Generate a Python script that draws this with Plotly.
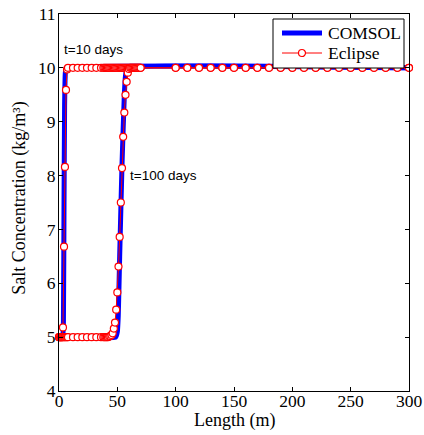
import plotly.graph_objects as go

# COMSOL profiles (length in m, salt concentration kg/m3)
comsol_t10_x = [0, 3.2, 3.8, 4.3, 4.8, 5.4, 6.2, 300]
comsol_t10_y = [5.0, 5.02, 5.3, 7.5, 9.3, 9.9, 10.0, 10.0]
comsol_t100_x = [0, 48.5, 50.0, 50.8, 52.0, 54.0, 56.0, 57.0, 58.5, 300]
comsol_t100_y = [5.0, 5.0, 5.1, 5.4, 6.5, 8.2, 9.5, 9.85, 10.0, 10.0]

# Eclipse grid cell centres
ecl_x = [0, 0.9, 1.7, 2.6, 3.4, 4.3, 5.1, 6.0, 6.9, 7.7,
         12, 16, 20, 24, 28, 32, 36,
         38, 39, 40, 41, 42, 43, 44, 45, 46, 47, 48, 49, 50, 51, 52, 53, 54, 55,
         56, 57, 58, 59, 60, 61, 62, 63, 64, 65, 66, 67, 68, 69, 70,
         100, 110, 120, 130, 140, 150, 160, 170, 180, 190, 200,
         210, 220, 230, 240, 250, 260, 270, 280, 290, 300]
ecl_t10_y = [5.0, 5.0, 5.0, 5.0, 5.18, 6.68, 8.16, 9.59, 9.97, 10.0,
             10.0, 10.0, 10.0, 10.0, 10.0, 10.0, 10.0,
             10.0, 10.0, 10.0, 10.0, 10.0, 10.0, 10.0, 10.0, 10.0, 10.0, 10.0, 10.0, 10.0, 10.0, 10.0, 10.0, 10.0, 10.0,
             10.0, 10.0, 10.0, 10.0, 10.0, 10.0, 10.0, 10.0, 10.0, 10.0, 10.0, 10.0, 10.0, 10.0, 10.0,
             10.0, 10.0, 10.0, 10.0, 10.0, 10.0, 10.0, 10.0, 10.0, 10.0, 10.0,
             10.0, 10.0, 10.0, 10.0, 10.0, 10.0, 10.0, 10.0, 10.0, 10.0]
ecl_t100_y = [5.0, 5.0, 5.0, 5.0, 5.0, 5.0, 5.0, 5.0, 5.0, 5.0,
              5.0, 5.0, 5.0, 5.0, 5.0, 5.0, 5.0,
              5.0, 5.0, 5.0, 5.0, 5.0, 5.01, 5.02, 5.04, 5.07, 5.16, 5.27, 5.51, 5.83, 6.31, 6.86, 7.5, 8.14, 8.72,
              9.17, 9.5, 9.74, 9.91, 9.98, 10.0, 10.0, 10.0, 10.0, 10.0, 10.0, 10.0, 10.0, 10.0, 10.0,
              10.0, 10.0, 10.0, 10.0, 10.0, 10.0, 10.0, 10.0, 10.0, 10.0, 10.0,
              10.0, 10.0, 10.0, 10.0, 10.0, 10.0, 10.0, 10.0, 10.0, 10.0]

x_ticks = [0, 50, 100, 150, 200, 250, 300]
y_ticks = [4, 5, 6, 7, 8, 9, 10, 11]
legend_labels = ["COMSOL", "Eclipse"]

serif = "Liberation Serif, Times New Roman, serif"
sans = "Liberation Sans, Arial, sans-serif"
BLUE = "#0000FF"
RED = "#FF0000"

fig = go.Figure()
for cx, cy in [(comsol_t10_x, comsol_t10_y), (comsol_t100_x, comsol_t100_y)]:
    fig.add_trace(go.Scatter(x=cx, y=cy, mode="lines", name=legend_labels[0],
                             line=dict(color=BLUE, width=5, shape="spline", smoothing=0.3),
                             showlegend=False, cliponaxis=False))
for ey in [ecl_t10_y, ecl_t100_y]:
    fig.add_trace(go.Scatter(x=ecl_x, y=ey, mode="lines+markers", name=legend_labels[1],
                             line=dict(color=RED, width=1),
                             marker=dict(symbol="circle", size=7, color="white",
                                         line=dict(color=RED, width=1.2)),
                             showlegend=False, cliponaxis=False))

fig.add_annotation(x=2.5, y=10.35, xref="x", yref="y", text="t=10 days", showarrow=False,
                   xanchor="left", yanchor="middle", font=dict(family=sans, size=13.5, color="black"))
fig.add_annotation(x=59, y=8.0, xref="x", yref="y", text="t=100 days", showarrow=False,
                   xanchor="left", yanchor="middle", font=dict(family=sans, size=13.5, color="black"))

# axis titles placed as paper annotations (plot area is 350 x 377 px)
fig.add_annotation(x=0.5, y=-30 / 377, xref="paper", yref="paper", text="Length (m)", showarrow=False,
                   xanchor="center", yanchor="middle", font=dict(family=serif, size=18, color="black"))
fig.add_annotation(x=-39 / 350, y=0.51, xref="paper", yref="paper", text="Salt Concentration (kg/m³)",
                   showarrow=False, textangle=-90,
                   xanchor="center", yanchor="middle", font=dict(family=serif, size=18, color="black"))

# legend box drawn in paper coordinates (MATLAB-style compact legend)
W, H = 350.0, 377.0
def px(v):
    return (v - 59) / W
def py(v):
    return (391 - v) / H

fig.add_shape(type="rect", xref="paper", yref="paper", x0=px(273), x1=px(404), y0=py(68), y1=py(19),
              line=dict(color="black", width=1), fillcolor="white", layer="above")
row_y = [py(33), py(53)]
fig.add_shape(type="line", xref="paper", yref="paper", x0=px(282), x1=px(322), y0=row_y[0], y1=row_y[0],
              line=dict(color=BLUE, width=5), layer="above")
fig.add_shape(type="line", xref="paper", yref="paper", x0=px(282), x1=px(322), y0=row_y[1], y1=row_y[1],
              line=dict(color=RED, width=1), layer="above")
fig.add_shape(type="circle", xref="paper", yref="paper", xsizemode="pixel", ysizemode="pixel",
              xanchor=px(302), yanchor=row_y[1], x0=-3.5, x1=3.5, y0=-3.5, y1=3.5,
              line=dict(color=RED, width=1.2), fillcolor="white", layer="above")
for lbl, ry in zip(legend_labels, row_y):
    fig.add_annotation(x=px(326), y=ry, xref="paper", yref="paper", text=lbl, showarrow=False,
                       xanchor="left", yanchor="middle", font=dict(family=serif, size=17.5, color="black"))

axis_common = dict(showline=True, linecolor="black", linewidth=1, mirror="ticks",
                   ticks="inside", ticklen=4, tickcolor="black", showgrid=False, zeroline=False,
                   automargin=False, ticklabeloverflow="allow",
                   tickfont=dict(family=serif, size=17.5, color="black"))
fig.update_xaxes(range=[0, 300], tickvals=x_ticks, ticklabelstandoff=-6, **axis_common)
fig.update_yaxes(range=[4, 11], tickvals=y_ticks, ticklabelstandoff=-1, **axis_common)

# plot area at 59..409 x 14..391 of the page (body margin removed below)
fig.update_layout(width=424, height=435, margin=dict(l=59, r=15, t=14, b=44),
                  plot_bgcolor="white", paper_bgcolor="white", showlegend=False)
fig.write_html("out.html", config={"displayModeBar": False},
               post_script="document.body.style.margin='0px';")
